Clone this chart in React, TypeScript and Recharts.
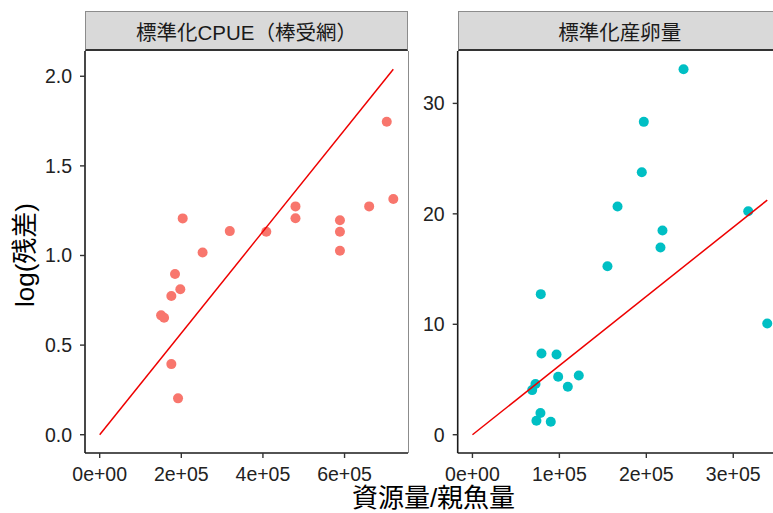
import React from "react";
import { ScatterChart, Scatter, XAxis, YAxis } from "recharts";

// ---- Panel titles / axis titles ----
const panelTitles = ["標準化CPUE（棒受網）", "標準化産卵量"];
const xTitle = "資源量/親魚量";
const yTitle = "log(残差)";

// ---- Left panel: 標準化CPUE（棒受網） ----
const cpueX = [184600, 197600, 175600, 150500, 157800, 175600, 192000, 203400, 252200, 318800, 408300, 479800, 479800, 588700, 588700, 588700, 660300, 703400, 719500];
const cpueY = [0.897, 0.812, 0.774, 0.666, 0.653, 0.394, 0.203, 1.207, 1.017, 1.136, 1.132, 1.274, 1.208, 1.197, 1.132, 1.026, 1.274, 1.746, 1.315];
const cpueLineX = [0, 719500];
const cpueLineY = [0, 2.039];
const cpueXTicks = [0, 200000, 400000, 600000];
const cpueXTickLabels = ["0e+00", "2e+05", "4e+05", "6e+05"];
const cpueYTicks = [0, 0.5, 1, 1.5, 2];
const cpueYTickLabels = ["0.0", "0.5", "1.0", "1.5", "2.0"];

// ---- Right panel: 標準化産卵量 ----
const eggX = [242800, 197100, 194800, 166900, 218600, 216300, 317200, 155300, 78600, 339100, 79400, 96700, 98600, 122300, 109700, 72500, 68700, 78200, 73600, 90100];
const eggY = [33.09, 28.33, 23.77, 20.66, 18.49, 16.95, 20.24, 15.26, 12.73, 10.07, 7.36, 7.27, 5.25, 5.37, 4.34, 4.59, 4.04, 1.96, 1.27, 1.18];
const eggLineX = [0, 339100];
const eggLineY = [0, 21.24];
const eggXTicks = [0, 100000, 200000, 300000];
const eggXTickLabels = ["0e+00", "1e+05", "2e+05", "3e+05"];
const eggYTicks = [0, 10, 20, 30];
const eggYTickLabels = ["0", "10", "20", "30"];

const FONT = '"Liberation Sans", Arial, "Noto Sans CJK JP", sans-serif';
const CJK = '"Liberation Sans", "Noto Sans CJK JP", sans-serif';

const zip = (xs: number[], ys: number[]) => xs.map((x, i) => ({ x, y: ys[i] }));
const expand = (lo: number, hi: number): [number, number] => {
  const d = (hi - lo) * 0.05;
  return [lo - d, hi + d];
};
const labeler = (ticks: number[], labels: string[]) => (v: number) => {
  const i = ticks.findIndex((t) => Math.abs(t - v) < 1e-9);
  return i >= 0 ? labels[i] : String(v);
};

const tickStyle = { fill: "#222", fontSize: 19.5, fontFamily: FONT };

type PanelProps = {
  left: number;
  width: number;
  yAxisWidth: number;
  rightMargin: number;
  points: { x: number; y: number }[];
  line: { x: number; y: number }[];
  color: string;
  xTicks: number[];
  xLabels: string[];
  yTicks: number[];
  yLabels: string[];
  xDomain: [number, number];
  yDomain: [number, number];
};

const Panel = (p: PanelProps) => (
  <div style={{ position: "absolute", left: p.left, top: 0 }}>
    <ScatterChart
      width={p.width}
      height={513}
      margin={{ top: 51, right: p.rightMargin, left: 0, bottom: 30 }}
    >
      <XAxis
        type="number"
        dataKey="x"
        domain={p.xDomain}
        allowDataOverflow
        ticks={p.xTicks}
        tickFormatter={labeler(p.xTicks, p.xLabels)}
        height={30}
        tickSize={5}
        tickMargin={9}
        tick={tickStyle}
        axisLine={{ stroke: "#1a1a1a", strokeWidth: 1.6 }}
        tickLine={{ stroke: "#333", strokeWidth: 1.4 }}
        interval={0}
      />
      <YAxis
        type="number"
        dataKey="y"
        domain={p.yDomain}
        allowDataOverflow
        ticks={p.yTicks}
        tickFormatter={labeler(p.yTicks, p.yLabels)}
        width={p.yAxisWidth}
        tickSize={5}
        tickMargin={8}
        tick={tickStyle}
        axisLine={{ stroke: "#1a1a1a", strokeWidth: 1.6 }}
        tickLine={{ stroke: "#333", strokeWidth: 1.4 }}
        interval={0}
      />
      <Scatter
        data={p.points}
        isAnimationActive={false}
        shape={(s: any) => <circle cx={s.cx} cy={s.cy} r={5} fill={p.color} />}
      />
      <Scatter
        data={p.line}
        isAnimationActive={false}
        line={{ stroke: "#ee0000", strokeWidth: 1.5 }}
        lineType="joint"
        shape={() => <g />}
      />
    </ScatterChart>
  </div>
);

const Strip = ({ left, width, text }: { left: number; width: number; text: string }) => (
  <div
    style={{
      position: "absolute",
      left,
      top: 11,
      width,
      height: 40,
      boxSizing: "border-box",
      background: "#d9d9d9",
      border: "1px solid #8c8c8c",
      borderBottom: "2px solid #333",
      display: "flex",
      alignItems: "center",
      justifyContent: "center",
      fontFamily: CJK,
      fontSize: 20.5,
      color: "#1a1a1a",
      whiteSpace: "nowrap",
    }}
  >
    {text}
  </div>
);

export default function App() {
  return (
    <div
      style={{
        position: "absolute",
        left: 0,
        top: 0,
        width: 773,
        height: 513,
        overflow: "hidden",
        background: "#fff",
        fontFamily: FONT,
      }}
    >
      <Panel
        left={0}
        width={420}
        yAxisWidth={85}
        rightMargin={12}
        points={zip(cpueX, cpueY)}
        line={zip(cpueLineX, cpueLineY)}
        color="#F8766D"
        xTicks={cpueXTicks}
        xLabels={cpueXTickLabels}
        yTicks={cpueYTicks}
        yLabels={cpueYTickLabels}
        xDomain={expand(0, 719500)}
        yDomain={expand(0, 2.039)}
      />
      <Panel
        left={420}
        width={375}
        yAxisWidth={37.7}
        rightMargin={13}
        points={zip(eggX, eggY)}
        line={zip(eggLineX, eggLineY)}
        color="#00BFC4"
        xTicks={eggXTicks}
        xLabels={eggXTickLabels}
        yTicks={eggYTicks}
        yLabels={eggYTickLabels}
        xDomain={expand(0, 339100)}
        yDomain={expand(0, 33.09)}
      />
      {/* right border of left panel */}
      <div
        style={{
          position: "absolute",
          left: 407.5,
          top: 51,
          width: 0,
          height: 402,
          borderLeft: "1px solid #8c8c8c",
        }}
      />
      <Strip left={85} width={323} text={panelTitles[0]} />
      <Strip left={457.7} width={324.3} text={panelTitles[1]} />
      <div
        style={{
          position: "absolute",
          left: 25,
          top: 255,
          transform: "translate(-50%, -50%) rotate(-90deg)",
          fontFamily: CJK,
          fontSize: 26,
          lineHeight: 1,
          color: "#000",
          whiteSpace: "nowrap",
        }}
      >
        {yTitle}
      </div>
      <div
        style={{
          position: "absolute",
          left: 433.5,
          top: 498,
          transform: "translate(-50%, -50%)",
          fontFamily: CJK,
          fontSize: 26,
          lineHeight: 1,
          color: "#000",
          whiteSpace: "nowrap",
        }}
      >
        {xTitle}
      </div>
    </div>
  );
}
